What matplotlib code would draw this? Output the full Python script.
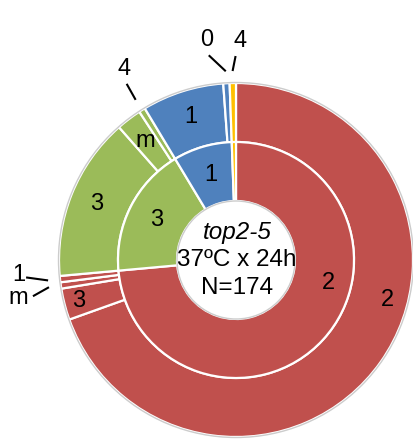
import numpy as np
import matplotlib.pyplot as plt

plt.rcParams['font.family'] = ['Liberation Sans', 'DejaVu Sans']

# inner ring: class per cell, outer ring: sub-class
inner_names = ['2', '3', '1', '4']
inner_counts = [128, 31, 14, 1]
outer_names = ['2', '3', 'm', '1', '3', 'm', '4', '1', '0', '4']
outer_counts = [121, 5, 1, 1, 26, 4, 1, 13, 1, 1]
outer_groups = [0, 0, 0, 0, 1, 1, 1, 2, 2, 3]
center_lines = ['top2-5', '37ºC x 24h', 'N=174']

colors = ['#C0504D', '#9BBB59', '#4F81BD', '#FFC000']

W, H = 414, 442
cx, cy = 236, H - 260
R = 177
w = R / 3.0

fig = plt.figure(figsize=(W / 100, H / 100), dpi=100)
ax = fig.add_axes([0, 0, 1, 1])
wp = dict(edgecolor='white', linewidth=1.6, width=w)
outer, _ = ax.pie(outer_counts, radius=R, center=(cx, cy), startangle=90,
                  counterclock=False, colors=[colors[g] for g in outer_groups],
                  wedgeprops=wp)
inner, _ = ax.pie(inner_counts, radius=R - w, center=(cx, cy), startangle=90,
                  counterclock=False, colors=colors, wedgeprops=wp)
ax.set_xlim(0, W)
ax.set_ylim(0, H)
ax.axis('off')

# thin grey outlines like the excel chart
ax.add_patch(plt.Circle((cx, cy), R + 0.5, fill=False, ec='#CCCCCC', lw=1.0))
ax.add_patch(plt.Circle((cx, cy), w, fill=False, ec='#CCCCCC', lw=1.0))


def pt(theta, r):
    t = np.radians(theta)
    return cx + r * np.cos(t), cy + r * np.sin(t)


def mid(wd):
    return (wd.theta1 + wd.theta2) / 2.0


fs = 17
for wd, name in zip(inner, inner_names):
    span = wd.theta2 - wd.theta1
    if span < 5:
        continue
    if span > 180:
        x, y = pt(-14, 95)
    else:
        x, y = pt(mid(wd), 1.5 * w)
    ax.text(x, y, name, fontsize=fs, ha='center', va='center')

# callout offsets for the tiny slices (text pos relative to line end)
callouts = {6: ((-9, 16), (-3, 15)), 8: ((-17, 16), (-2, 15)),
            9: ((3, 15), (4, 15)), 3: ((-22, 3), (-7, 2)),
            2: ((-16, -9), (-15, -2))}
for i, (wd, name) in enumerate(zip(outer, outer_names)):
    span = wd.theta2 - wd.theta1
    if i in callouts:
        (dx, dy), (tx, ty) = callouts[i]
        x0, y0 = pt(mid(wd), R + 12)
        x1, y1 = x0 + dx, y0 + dy
        ax.plot([x0, x1], [y0, y1], color='black', lw=1.5, solid_capstyle='butt')
        ax.text(x1 + tx, y1 + ty, name, fontsize=fs, ha='center', va='center')
        continue
    if span > 180:
        x, y = pt(-14.7, 157)
    elif outer_groups[i] == 0:
        x, y = pt(mid(wd), 163)
    else:
        x, y = pt(mid(wd), 150)
    ax.text(x, y, name, fontsize=fs, ha='center', va='center')

for k, line in enumerate(center_lines):
    ax.text(cx + 1, cy + 28 - 28 * k, line, fontsize=17.5, ha='center', va='center',
            style='italic' if k == 0 else 'normal')

fig.savefig('out.png', dpi=100)
